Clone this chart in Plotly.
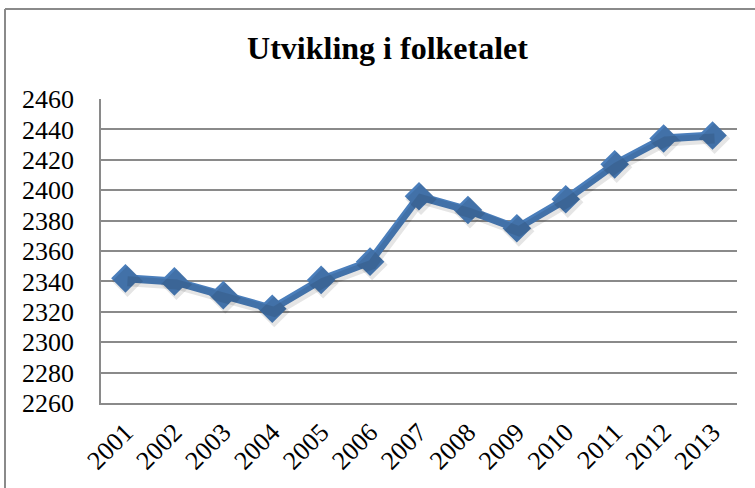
import plotly.graph_objects as go

years = ["2001", "2002", "2003", "2004", "2005", "2006", "2007",
         "2008", "2009", "2010", "2011", "2012", "2013"]
population = [2342, 2340, 2331, 2322, 2341, 2353, 2396,
              2387, 2375, 2394, 2417, 2434, 2436]
y_ticks = [2260, 2280, 2300, 2320, 2340, 2360, 2380, 2400, 2420, 2440, 2460]

title_text = "Utvikling i folketalet"
SERIF = "Liberation Serif"

W, H = 755, 488
ML, MR, MT, MB = 101, 18, 99, 85
pw = W - ML - MR
ph = H - MT - MB

YMIN, YMAX = 2260, 2460
n = len(years)

# soft drop shadow: same data drawn on an overlaid axis pair shifted a few px
sh_dx, sh_dy = 2, 3
dxu = sh_dx * n / pw
dyu = sh_dy * (YMAX - YMIN) / ph

fig = go.Figure()
fig.add_trace(go.Scatter(
    x=years, y=population, mode="lines+markers", xaxis="x2", yaxis="y2",
    line=dict(color="rgba(0,0,0,0.10)", width=10),
    marker=dict(symbol="diamond", size=24, color="rgba(0,0,0,0.10)"),
    showlegend=False, hoverinfo="skip",
))
fig.add_trace(go.Scatter(
    x=years, y=population, mode="lines+markers",
    line=dict(color="#4a7ebb", width=8),
    marker=dict(symbol="diamond", size=22, color="#4a7ebb"),
    showlegend=False, hoverinfo="x+y",
))

bx = (5 - ML) / pw          # left frame line (paper units)
by = (H - MB - 9) / ph      # top frame line
fig.add_shape(type="line", xref="paper", yref="paper",
              x0=bx, x1=bx, y0=(H - MB - H) / ph, y1=by,
              line=dict(color="#8a8a8a", width=2), layer="below")
fig.add_shape(type="line", xref="paper", yref="paper",
              x0=bx, x1=(W - ML) / pw, y0=by, y1=by,
              line=dict(color="#8a8a8a", width=2), layer="below")

fig.update_layout(
    width=W, height=H,
    margin=dict(l=ML, r=MR, t=MT, b=MB, autoexpand=False),
    paper_bgcolor="white", plot_bgcolor="white",
    font=dict(family=SERIF, color="black"),
    title=dict(text="<b>" + title_text + "</b>", x=387.5 / W, xanchor="center",
               y=1 - 48 / H, yanchor="middle", xref="container", yref="container",
               font=dict(size=32, family=SERIF, color="black")),
    xaxis=dict(
        type="category", range=[-0.5, n - 0.5], automargin=False,
        showgrid=False, showline=True, linecolor="#8a8a8a", linewidth=1.5,
        tickangle=-45, tickfont=dict(size=26, family=SERIF),
        ticks="outside", ticklen=2, tickcolor="rgba(0,0,0,0)",
        fixedrange=True,
    ),
    yaxis=dict(
        range=[YMIN, YMAX], tickvals=y_ticks, ticktext=[str(v) for v in y_ticks],
        automargin=False,
        showgrid=True, gridcolor="#8a8a8a", gridwidth=1.5,
        showline=True, linecolor="#8a8a8a", linewidth=1.5,
        zeroline=False, tickfont=dict(size=26, family=SERIF),
        ticks="outside", ticklen=20, tickcolor="rgba(0,0,0,0)",
        fixedrange=True,
    ),
    xaxis2=dict(type="category", overlaying="x", visible=False,
                range=[-0.5 - dxu, n - 0.5 - dxu], fixedrange=True),
    yaxis2=dict(overlaying="y", visible=False,
                range=[YMIN + dyu, YMAX + dyu], fixedrange=True),
)

fig.write_html(
    "out.html",
    config={"displayModeBar": False},
    post_script="document.body.style.margin='0px';document.body.style.overflow='hidden';",
)
